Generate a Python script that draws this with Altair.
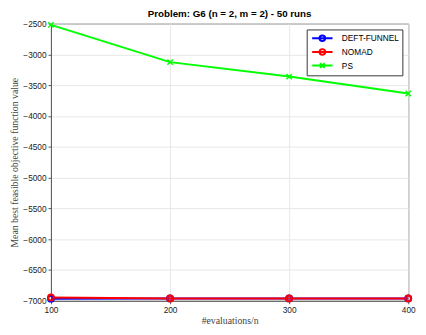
import altair as alt
import pandas as pd

evals = [100, 200, 300, 400]
deft = [-6965, -6961, -6961, -6961]
nomad = [-6945, -6961, -6961, -6961]
ps = [-2520, -3125, -3360, -3635]

series = ["DEFT-FUNNEL", "NOMAD", "PS"]
colors = ["#0000ff", "#ff0000", "#00ff00"]

rows = []
for name, vals in zip(series, [deft, nomad, ps]):
    for e, v in zip(evals, vals):
        rows.append({"evals": e, "value": v, "series": name})
df = pd.DataFrame(rows)

xs = alt.X("evals:Q", scale=alt.Scale(domain=[100, 400], nice=False, zero=False),
           axis=alt.Axis(values=evals, title="#evaluations/n", grid=True, format="d", labelFlush=False))
ys = alt.Y("value:Q", scale=alt.Scale(domain=[-7000, -2500], nice=False, zero=False),
           axis=alt.Axis(values=list(range(-7000, -2499, 500)), format="d",
                         title="Mean best feasible objective function value", grid=True, labelFlush=False))
color_scale = alt.Scale(domain=series, range=colors)

x_marker = "M-1,-1L1,1M-1,1L1,-1"

lines = alt.Chart(df).mark_line(strokeWidth=2).encode(
    x=xs, y=ys, color=alt.Color("series:N", scale=color_scale, legend=None),
    order=alt.Order("evals:Q"))

circ = alt.Chart(df[df.series != "PS"]).mark_point(shape="circle", filled=False, size=36, strokeWidth=2, opacity=1).encode(
    x=xs, y=ys, color=alt.Color("series:N", scale=color_scale, legend=None))

crosses = alt.Chart(df[df.series == "PS"]).mark_point(shape=x_marker, filled=False, size=30, strokeWidth=1.5, opacity=1).encode(
    x=xs, y=ys, color=alt.Color("series:N", scale=color_scale, legend=None))

circle_path = "M-2.2,0H2.2M-0.6,0A0.6,0.6 0 1,0 0.6,0A0.6,0.6 0 1,0 -0.6,0"
x_path = "M-2.2,0H2.2M-0.5,-0.5L0.5,0.5M-0.5,0.5L0.5,-0.5"

leg = alt.Legend(
    title=None, orient="top-right", offset=6,
    symbolOpacity=1, symbolStrokeWidth=2, symbolSize=90,
    symbolOffset=7, labelOffset=14,
    labelFont="Liberation Sans", labelFontSize=8.5, labelColor="#000",
    strokeColor="#333", fillColor="white", padding=3, rowPadding=0,
    symbolFillColor="transparent")

legend_layer = alt.Chart(df).mark_point(opacity=0, filled=False, strokeWidth=2).encode(
    x=xs, y=ys,
    color=alt.Color("series:N", scale=color_scale, legend=leg),
    shape=alt.Shape("series:N", scale=alt.Scale(domain=series, range=[circle_path, circle_path, x_path]), legend=leg))

chart = alt.layer(lines, circ, crosses, legend_layer).resolve_scale(color="independent", shape="independent").properties(
    width=366, height=284,
    title=alt.TitleParams("Problem: G6 (n = 2, m = 2) - 50 runs", font="Liberation Sans",
                          fontSize=10, fontWeight="bold", color="#000", offset=0),
    padding={"left": 44, "top": 12, "right": 10, "bottom": 30},
    autosize=alt.AutoSizeParams(type="none"),
).configure_view(stroke="#555", strokeWidth=1).configure_axis(
    labelFont="Liberation Sans", labelFontSize=8.5, labelColor="#222",
    titleFont="Liberation Serif", titleFontSize=10, titleFontWeight="normal", titleColor="#444",
    gridColor="#e6e6e6", domainColor="#555", tickColor="#555", tickSize=3,
).configure_axisY(titlePadding=3, labelPadding=2).configure_axisX(titlePadding=2, labelPadding=2)

chart.save("out.html", embed_options={"renderer": "svg", "actions": False})
